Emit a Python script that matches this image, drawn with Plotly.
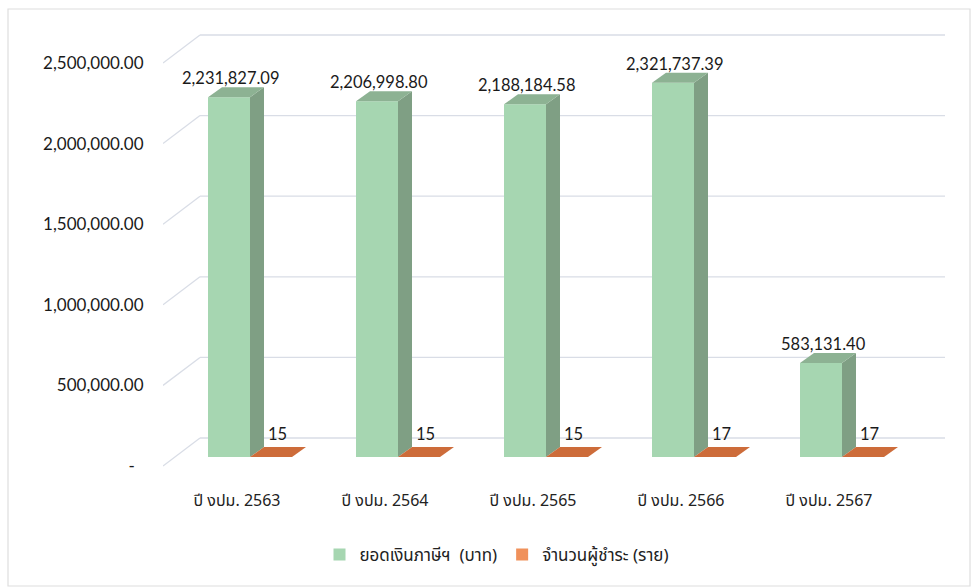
import plotly.graph_objects as go

# data
years = ["ปี งปม. 2563", "ปี งปม. 2564", "ปี งปม. 2565", "ปี งปม. 2566", "ปี งปม. 2567"]
tax_baht = [2231827.09, 2206998.80, 2188184.58, 2321737.39, 583131.40]
payers = [15, 15, 15, 17, 17]
y_ticks = [0, 500000, 1000000, 1500000, 2000000, 2500000]
y_ticktext = ["-\u00a0\u00a0", "500,000.00", "1,000,000.00", "1,500,000.00",
              "2,000,000.00", "2,500,000.00"]

GREEN = "#a6d6b1"
GREEN_SIDE = "#7f9f84"
GREEN_TOP = "#8db293"
ORANGE = "#f0915b"
ORANGE_TOP = "#cd6c3a"
GRID = "#d9dde6"
NUM_FONT = "Lato, Carlito, Open Sans, sans-serif"
THAI_FONT = "Noto Sans Thai, Noto Sans Thai Looped, Loma, Garuda, Noto Sans, sans-serif"

# pixel geometry of the plot box (front plane)
L, R, T, B = 163, 29, 30, 108
W, H = 974, 588
PX_X = 148.0              # pixels per category
PX_Y = 161.2 / 1e6        # pixels per baht
X0 = -0.5
X1 = X0 + (W - L - R) / PX_X
Y0 = -(H - B - 466) / PX_Y
Y1 = Y0 + (H - B - T) / PX_Y

# 3d depth: bar front sits 9px behind the front plane, bar depth ~14x10px, back wall 37x28px
bar_dx, bar_dy = 12 / PX_X, 9 / PX_Y
deep_dx, deep_dy = 14 / PX_X, 10 / PX_Y
wall_dx, wall_dy = 37 / PX_X, 28 / PX_Y
bw = 42 / PX_X
g_off = -41 / PX_X + bar_dx
o_off = g_off + bw
base = bar_dy

fig = go.Figure()
xs = list(range(len(years)))
fig.add_trace(go.Bar(x=xs, y=tax_baht, base=[base] * len(xs), width=bw, offset=g_off,
                     marker=dict(color=GREEN, line_width=0), name="ยอดเงินภาษีฯ\u00a0\u00a0(บาท)"))
fig.add_trace(go.Bar(x=xs, y=payers, base=[base] * len(xs), width=bw, offset=o_off,
                     marker=dict(color=ORANGE, line_width=0), name="จำนวนผู้ชำระ (ราย)"))


def face(px, py, color):
    fig.add_trace(go.Scatter(x=px + [px[0]], y=py + [py[0]], mode="lines", fill="toself",
                             fillcolor=color, line=dict(width=0), hoverinfo="skip",
                             showlegend=False))


for i, v in enumerate(tax_baht):
    xl, xr = i + g_off, i + g_off + bw
    yt = base + v
    face([xr, xr, xr + deep_dx, xr + deep_dx], [base, yt, yt + deep_dy, base + deep_dy], GREEN_SIDE)
    face([xl, xr, xr + deep_dx, xl + deep_dx], [yt, yt, yt + deep_dy, yt + deep_dy], GREEN_TOP)
    fig.add_annotation(x=(xl + xr) / 2 + 2 / PX_X, y=yt, text=f"{v:,.2f}", showarrow=False,
                       yanchor="bottom", yshift=7, font=dict(family=NUM_FONT, size=16.5, color="#1a1a1a"))

for i, v in enumerate(payers):
    xl, xr = i + o_off, i + o_off + bw
    yt = base + v
    face([xl, xr, xr + deep_dx, xl + deep_dx], [yt, yt, yt + deep_dy, yt + deep_dy], ORANGE_TOP)
    fig.add_annotation(x=(xl + xr) / 2 + 6 / PX_X, y=yt, text=str(v), showarrow=False,
                       yanchor="bottom", yshift=11, font=dict(family=NUM_FONT, size=16.5, color="#1a1a1a"))

# back wall gridlines with their perspective legs
shapes = []
for t in y_ticks:
    shapes.append(dict(type="line", xref="x", yref="y", x0=X0, y0=t, x1=X0 + wall_dx, y1=t + wall_dy,
                       line=dict(color=GRID, width=1.3), layer="below"))
    shapes.append(dict(type="line", xref="x", yref="y", x0=X0 + wall_dx, y0=t + wall_dy, x1=X1,
                       y1=t + wall_dy, line=dict(color=GRID, width=1.3), layer="below"))
# outer chart frame
pw, ph = W - L - R, H - T - B
shapes.append(dict(type="rect", xref="paper", yref="paper",
                   x0=(8 - L) / pw, x1=(970 - L) / pw, y0=(H - B - 586) / ph, y1=(H - B - 9) / ph,
                   line=dict(color="#dedede", width=1.2), layer="below"))

fig.update_layout(
    width=W, height=H,
    margin=dict(l=L, r=R, t=T, b=B),
    paper_bgcolor="white", plot_bgcolor="white",
    barmode="overlay",
    shapes=shapes,
    showlegend=True,
    legend=dict(orientation="h", x=(497 - L) / pw, xanchor="center", y=(H - B - 555) / ph,
                yanchor="middle", font=dict(family=THAI_FONT, size=17, color="#222"),
                itemclick=False, traceorder="normal"),
    xaxis=dict(range=[X0, X1], tickvals=xs, ticktext=years, showgrid=False, zeroline=False,
               showline=False, ticks="outside", ticklen=6, tickcolor="rgba(0,0,0,0)",
               tickfont=dict(family=THAI_FONT, size=16, color="#222")),
    yaxis=dict(range=[Y0, Y1], tickvals=y_ticks, ticktext=y_ticktext, showgrid=False,
               zeroline=False, showline=False, ticks="outside", ticklen=15,
               tickcolor="rgba(0,0,0,0)", tickfont=dict(family=NUM_FONT, size=17, color="#1a1a1a")),
)

# the page body has a default 8px margin; drop it so the figure fills the window
fig.write_html("out.html", config={"displayModeBar": False},
               post_script="document.body.style.margin='0';")
